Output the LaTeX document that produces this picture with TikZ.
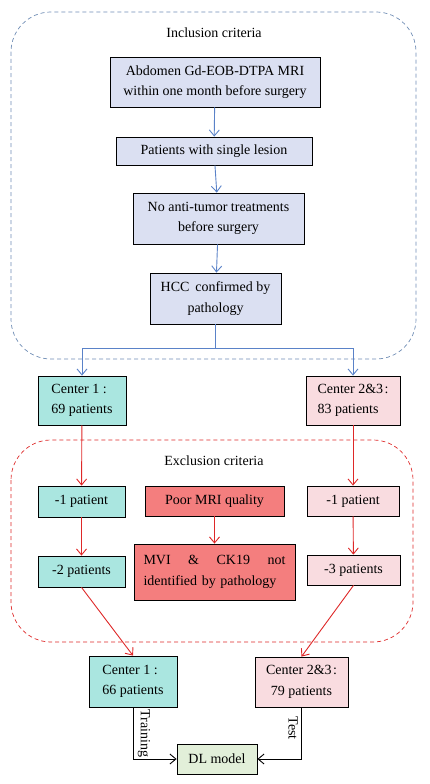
\documentclass[tikz,border=0pt]{standalone}
\usepackage{fontspec}
\setmainfont{Liberation Serif}
\usepackage{xcolor}
\usepackage{tikz}
\usetikzlibrary{arrows.meta,calc,positioning}
\definecolor{inclfill}{RGB}{219,224,242}
\definecolor{inclline}{RGB}{110,140,180}
\definecolor{arrblue}{RGB}{90,130,200}
\definecolor{tealfill}{RGB}{170,230,224}
\definecolor{pinkfill}{RGB}{249,220,224}
\definecolor{redfill}{RGB}{244,126,126}
\definecolor{arrred}{RGB}{222,40,40}
\definecolor{greenfill}{RGB}{226,239,217}
\tikzset{
  box/.style={draw, line width=0.8pt, inner sep=0pt, align=center, font=\fontsize{14}{20.5}\selectfont},
  incl_n/.style={box, fill=inclfill},
  cen_a/.style={box, fill=tealfill},
  cen_b/.style={box, fill=pinkfill},
  excl_n/.style={box, fill=redfill},
  dl_n/.style={box, fill=greenfill},
  title_n/.style={inner sep=0pt, font=\fontsize{14}{17}\selectfont},
  frame_b/.style={draw=inclline, dashed, dash pattern=on 4pt off 3pt, line width=0.7pt, rounded corners=40pt},
  frame_r/.style={draw=arrred, dashed, dash pattern=on 4pt off 3pt, line width=0.7pt, rounded corners=40pt},
  arr_b/.style={draw=arrblue, line width=0.9pt, -{Straight Barb[length=6pt,width=10pt]}},
  arr_r/.style={draw=arrred, line width=0.9pt, -{Straight Barb[length=6pt,width=10pt]}},
  arr_k/.style={draw=black, line width=0.9pt, -{Straight Barb[length=6pt,width=10pt]}}
}

\begin{document}
\begin{tikzpicture}[x=1pt, y=-1pt]
	\useasboundingbox (0,0) rectangle (429,784);
	\draw[frame_b] (11,12) rectangle (416,359);
	\draw[frame_r] (11,440) rectangle (413,642);
	\node[title_n] (incl) at (214,33) {Inclusion criteria};
	\node[incl_n, minimum width=210, minimum height=50] (mri) at (215,82)
		{Abdomen Gd-EOB-DTPA MRI\\within one month before surgery};
	\node[incl_n, minimum width=196, minimum height=28] (single) at (214,151)
		{Patients with single lesion};
	\node[incl_n, minimum width=171, minimum height=51] (notreat) at (218.5,218.5)
		{No anti-tumor treatments\\before surgery};
	\node[incl_n, minimum width=131, minimum height=51] (hcc) at (215.5,298.5)
		{HCC\, confirmed by\\pathology};
	\node[cen_a, align=left, minimum width=88, minimum height=49] (cen1) at (82,400.5)
		{Center 1\hspace{0.25em}:\\69 patients};
	\node[cen_b, align=left, minimum width=94, minimum height=49] (cen23) at (353,400.5)
		{Center 2\&3\hspace{0.1em}:\\83 patients};
	\node[title_n] (excl) at (214,461) {Exclusion criteria};
	\node[cen_a, minimum width=87, minimum height=31] (minus1) at (81.5,501.5) {-1 patient};
	\node[cen_a, minimum width=87, minimum height=31] (minus2) at (81.5,571.5) {-2 patients};
	\node[excl_n, minimum width=139, minimum height=30] (poor) at (214.5,501) {Poor MRI quality};
	\node[excl_n, align=left, text width=142, minimum width=161, minimum height=56] (mvi) at (214.5,572)
		{MVI \hfill\& \hfill CK19 \hfill not\\identified by pathology};
	\node[cen_b, minimum width=92, minimum height=30] (rminus1) at (353,501) {-1 patient};
	\node[cen_b, minimum width=93, minimum height=30] (rminus3) at (353.5,570) {-3 patients};
	\node[cen_a, align=left, minimum width=88, minimum height=51] (train) at (133,681.5)
		{Center 1\hspace{0.25em}:\\66 patients};
	\node[cen_b, minimum width=93, minimum height=50] (test) at (301.5,682)
		{Center 2\&3\hspace{0.1em}:\\79 patients};
	\node[dl_n, minimum width=80, minimum height=30] (dl) at (217,759) {DL model};

	\draw[arr_b] (mri) -- (single);
	\draw[arr_b] (single) -- (notreat);
	\draw[arr_b] (notreat) -- (hcc);
	\draw[draw=arrblue, line width=0.9pt] (hcc.south) -- ($(hcc.south)+(0,24)$) coordinate (split);
	\draw[arr_b] (split) -| (cen1.north);
	\draw[arr_b] (split) -| (cen23.north);

	\draw[arr_r] (cen1) -- (minus1);
	\draw[arr_r] (minus1) -- (minus2);
	\draw[arr_r] (poor) -- (mvi);
	\draw[arr_r] (cen23) -- (rminus1);
	\draw[arr_r] (rminus1) -- (rminus3);
	\draw[arr_r] (minus2.south) -- (train.north);
	\draw[arr_r] (rminus3.south) -- (test.north);

	\draw[arr_k] (train.south) |- (dl.west)
		node[pos=0.25, right=1pt, rotate=-90, anchor=south, font=\fontsize{14}{17}\selectfont] (trlab) {Training};
	\draw[arr_k] (test.south) |- (dl.east)
		node[pos=0.2, rotate=-90, anchor=north, font=\fontsize{14}{17}\selectfont] (telab) {Test};
\end{tikzpicture}
\end{document}
